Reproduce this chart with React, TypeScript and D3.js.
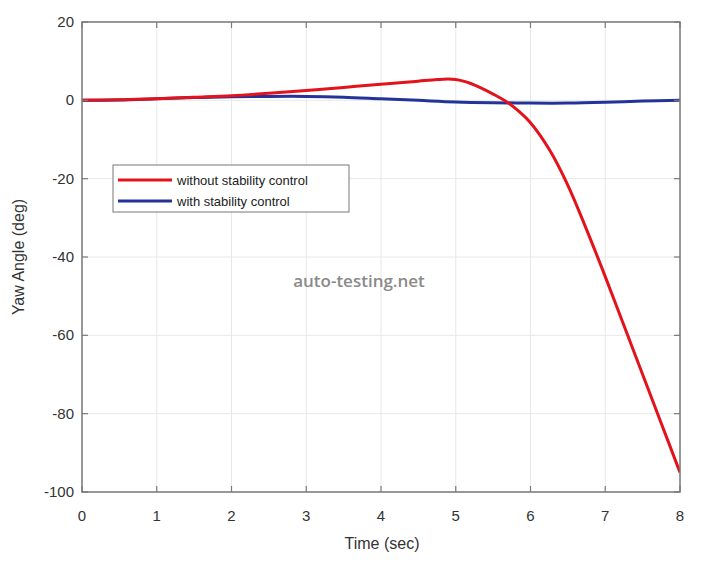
import React from "react";
import * as d3 from "d3";

const xTicks = [0, 1, 2, 3, 4, 5, 6, 7, 8];
const yTicks = [20, 0, -20, -40, -60, -80, -100];

const redT = [0, 0.5, 1, 1.5, 2, 2.5, 3, 3.5, 3.75, 4, 4.25, 4.5, 4.75, 4.9, 5.0, 5.1, 5.2, 5.3, 5.5, 5.7, 5.85, 6, 6.25, 6.5, 6.75, 7, 7.25, 7.5, 7.75, 8];
const redY = [0, 0.15, 0.4, 0.8, 1.2, 1.8, 2.5, 3.3, 3.7, 4.1, 4.5, 4.9, 5.3, 5.45, 5.3, 4.9, 4.3, 3.5, 1.6, -0.6, -2.9, -5.7, -12.5, -21.7, -33, -45, -57.5, -70, -82.5, -95];

const blueT = [0, 0.5, 1, 1.5, 2, 2.5, 3, 3.5, 4, 4.5, 5, 5.5, 6, 6.5, 7, 7.5, 8];
const blueY = [0, 0.1, 0.4, 0.7, 0.9, 1.0, 1.0, 0.8, 0.4, 0.0, -0.4, -0.6, -0.7, -0.7, -0.5, -0.2, 0];

const seriesNames = ["without stability control", "with stability control"];
const seriesColors = ["#e3121b", "#23339a"];

export default function App() {
  const W = 723, H = 567;
  const L = 82, R = 680, T = 22, B = 492;
  const x = d3.scaleLinear().domain([0, 8]).range([L, R]);
  const y = d3.scaleLinear().domain([-100, 20]).range([B, T]);
  const line = d3
    .line<[number, number]>()
    .x((d) => x(d[0]))
    .y((d) => y(d[1]))
    .curve(d3.curveCatmullRom.alpha(0.5));
  const red = redT.map((t, i) => [t, redY[i]] as [number, number]);
  const blue = blueT.map((t, i) => [t, blueY[i]] as [number, number]);
  const font = "'Liberation Sans', Arial, sans-serif";
  const tickLen = 6;
  return (
    <svg
      width={W}
      height={H}
      style={{ position: "absolute", left: 0, top: 0, background: "#fff" }}
    >
      <defs>
        <clipPath id="plot">
          <rect x={L} y={T} width={R - L} height={B - T} />
        </clipPath>
      </defs>
      {/* grid */}
      {xTicks.map((t) => (
        <line key={"gx" + t} x1={x(t)} x2={x(t)} y1={T} y2={B} stroke="#e8e8e8" strokeWidth={1} />
      ))}
      {yTicks.map((t) => (
        <line key={"gy" + t} x1={L} x2={R} y1={y(t)} y2={y(t)} stroke="#e8e8e8" strokeWidth={1} />
      ))}
      {/* lines */}
      <g clipPath="url(#plot)">
        <path d={line(blue) || ""} fill="none" stroke={seriesColors[1]} strokeWidth={3} />
        <path d={line(red) || ""} fill="none" stroke={seriesColors[0]} strokeWidth={3} />
      </g>
      {/* box */}
      <rect x={L} y={T} width={R - L} height={B - T} fill="none" stroke="#7a7a7a" strokeWidth={1.5} />
      {/* ticks */}
      {xTicks.map((t) => (
        <g key={"tx" + t}>
          <line x1={x(t)} x2={x(t)} y1={B} y2={B - tickLen} stroke="#7a7a7a" strokeWidth={1.2} />
          <line x1={x(t)} x2={x(t)} y1={T} y2={T + tickLen} stroke="#7a7a7a" strokeWidth={1.2} />
          <text x={x(t)} y={B + 29} textAnchor="middle" fontFamily={font} fontSize={15} fill="#333">
            {t}
          </text>
        </g>
      ))}
      {yTicks.map((t) => (
        <g key={"ty" + t}>
          <line x1={L} x2={L + tickLen} y1={y(t)} y2={y(t)} stroke="#7a7a7a" strokeWidth={1.2} />
          <line x1={R} x2={R - tickLen} y1={y(t)} y2={y(t)} stroke="#7a7a7a" strokeWidth={1.2} />
          <text x={L - 8} y={y(t) + 5} textAnchor="end" fontFamily={font} fontSize={15} fill="#333">
            {t}
          </text>
        </g>
      ))}
      {/* axis labels */}
      <text x={382} y={549} textAnchor="middle" fontFamily={font} fontSize={16} fill="#333">
        Time (sec)
      </text>
      <text
        transform={`translate(24, ${(T + B) / 2}) rotate(-90)`}
        textAnchor="middle"
        fontFamily={font}
        fontSize={16}
        fill="#333"
      >
        Yaw Angle (deg)
      </text>
      {/* legend */}
      <rect x={113} y={165} width={236} height={47} fill="#fff" stroke="#777" strokeWidth={1} />
      {seriesNames.map((n, i) => (
        <g key={n}>
          <line x1={118} x2={172} y1={180 + i * 21} y2={180 + i * 21} stroke={seriesColors[i]} strokeWidth={3} />
          <text x={177} y={185 + i * 21} fontFamily={font} fontSize={13} fill="#222">
            {n}
          </text>
        </g>
      ))}
      {/* watermark */}
      <text x={359} y={287} textAnchor="middle" fontFamily="'Open Sans', sans-serif" fontWeight={600} fontSize={17} fill="#8a8a8a">
        auto-testing.net
      </text>
    </svg>
  );
}
